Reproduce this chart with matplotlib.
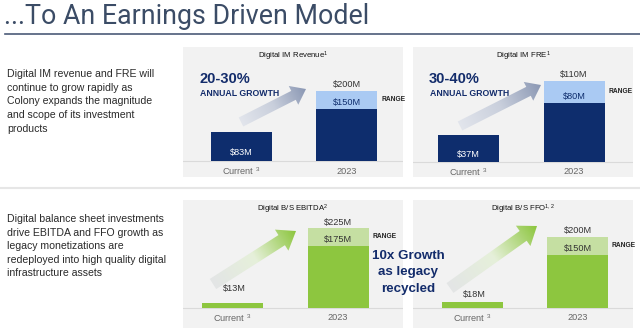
import numpy as np
import matplotlib.pyplot as plt
from matplotlib.patches import FancyArrow
from matplotlib.colors import LinearSegmentedColormap

plt.rcParams['font.family'] = ['Liberation Sans', 'DejaVu Sans']
plt.rcParams['mathtext.fontset'] = 'custom'
plt.rcParams['mathtext.rm'] = 'Liberation Sans'
plt.rcParams['mathtext.default'] = 'regular'

# data
categories = ['Current $^3$', '2023']
chart_titles = ['Digital IM Revenue$^1$', 'Digital IM FRE$^1$',
                'Digital B/S EBITDA$^2$', 'Digital B/S FFO$^{1,2}$']
current_values = [83, 37, 13, 18]
low_2023 = [150, 80, 175, 150]
high_2023 = [200, 110, 225, 200]
growth_labels = ['20-30%', '30-40%']
top_text = ['Digital IM revenue and FRE will', 'continue to grow rapidly as',
            'Colony expands the magnitude', 'and scope of its investment', 'products']
bottom_text = ['Digital balance sheet investments', 'drive EBITDA and FFO growth as',
               'legacy monetizations are', 'redeployed into high quality digital',
               'infrastructure assets']

W, H = 640, 333
NAVY = '#0E2D6D'
LIGHT_BLUE = '#AACAF3'
GREEN = '#8DC63F'
LIGHT_GREEN = '#C5DFA2'
PANEL = '#F2F2F2'
TXT_BLUE = '#132C6B'

# panel layout in pixels: x0, x1, top, bottom, baseline, bar centres, px per $M
panels = [
    (183, 403, 47, 177, 161, (241.5, 346.5), 0.35),
    (413, 633, 47, 177, 162, (468.5, 574.0), 0.74),
    (183, 403, 200, 328, 308, (232.5, 338.0), 0.355),
    (413, 633, 200, 328, 308, (472.5, 577.5), 0.355),
]
cur_offsets = [9, 8, 15, 7]   # label offset above zero / bar top
cur_inside = [True, True, False, False]

fig = plt.figure(figsize=(6.4, 3.33), dpi=100)

for i, (x0, x1, top, bot, base, (c0, c1), scale) in enumerate(panels):
    ax = fig.add_axes([x0 / W, 1 - bot / H, (x1 - x0) / W, (bot - top) / H])
    ax.set_facecolor(PANEL)
    for s in ax.spines.values():
        s.set_visible(False)
    ax.set_xticks([])
    ax.set_yticks([])
    sep = c1 - c0
    width = 61 / sep
    ax.set_xlim(-(c0 - x0) / sep, 1 + (x1 - c1) / sep)
    ax.set_ylim(-(bot - base) / scale, (base - top) / scale)
    dark, light = (NAVY, LIGHT_BLUE) if i < 2 else (GREEN, LIGHT_GREEN)

    ax.axhline(0, color='#DADADA', lw=0.8, zorder=1)
    ax.bar([0], [current_values[i]], width, color=dark, zorder=2)
    ax.bar([1], [low_2023[i]], width, color=dark, zorder=2)
    ax.bar([1], [high_2023[i] - low_2023[i]], width, bottom=low_2023[i], color=light, zorder=2)

    # value labels
    if cur_inside[i]:
        ax.annotate(f'${current_values[i]}M', (0, 0), xytext=(0, cur_offsets[i]),
                    textcoords='offset pixels', ha='center', va='center',
                    color='white', fontsize=6.6)
    else:
        ax.annotate(f'${current_values[i]}M', (0, current_values[i]), xytext=(2, cur_offsets[i]),
                    textcoords='offset pixels', ha='center', va='center',
                    color='#333333', fontsize=6.6)
    ax.annotate(f'${low_2023[i]}M', (1, low_2023[i]), xytext=(0, 6),
                textcoords='offset pixels', ha='center', va='center',
                color=NAVY if i < 2 else '#333333', fontsize=6.6)
    ax.annotate(f'${high_2023[i]}M', (1, high_2023[i]), xytext=(0, 6),
                textcoords='offset pixels', ha='center', va='center',
                color='#333333', fontsize=6.6)
    ax.annotate('RANGE', (1 + width / 2, (low_2023[i] + high_2023[i]) / 2), xytext=(4, 0),
                textcoords='offset pixels', ha='left', va='center',
                color='#222222', fontsize=4.8, fontweight='bold')
    for j, cat in enumerate(categories):
        ax.annotate(cat, (j, 0), xytext=(0, -10), textcoords='offset pixels',
                    ha='center', va='center', color='#666666', fontsize=6.6)
    ax.text(0.5, 1 - 9 / (bot - top), chart_titles[i], transform=ax.transAxes,
            ha='center', va='center', fontsize=5.6, color='#111111')

# overlay in pixel coordinates for slide text and arrows
ov = fig.add_axes([0, 0, 1, 1], zorder=5)
ov.set_xlim(0, W)
ov.set_ylim(H, 0)
ov.axis('off')
ov.patch.set_alpha(0)

ov.text(4, 17, '...To An Earnings Driven Model', fontsize=19.3, color='#3B4C66',
        va='center', ha='left', family=['Roboto', 'DejaVu Sans'])
ov.plot([5, 640], [33.5, 33.5], color='#4B5B78', lw=1.2)
ov.plot([0, 640], [188, 188], color='#E6E6E6', lw=1.5, zorder=0)

for k, line in enumerate(top_text):
    ov.text(7, 74 + k * 13.7, line, fontsize=7.6, color='#2A2A2A', va='center')
for k, line in enumerate(bottom_text):
    ov.text(7, 219 + k * 13.6, line, fontsize=7.6, color='#2A2A2A', va='center')

for gx, glabel in zip([200, 430], growth_labels):
    ov.text(gx - 1, 79, glabel, fontsize=10.5, fontweight='bold', color=TXT_BLUE, va='center')
    ov.text(gx, 93, 'ANNUAL GROWTH', fontsize=6.3, fontweight='bold', color=TXT_BLUE, va='center')

for k, line in enumerate(['10x Growth', 'as legacy', 'recycled']):
    ov.text(408, 256 + k * 16.5, line, fontsize=9.6, fontweight='bold',
            color=TXT_BLUE, ha='center', va='center')

# gradient arrows: tail centre, tip, shaft width, head width, head length, colours
blue_fade = ['#E2E5EC', '#C9CFDC', '#8B98B4']
green_fade = ['#E3E5E6', '#E6F0DA', '#8DC63F']
arrows = [
    ((241, 122), (306, 89), 10, 21, 14, blue_fade),
    ((460, 126), (541, 85), 10, 21, 14, blue_fade),
    ((213, 284), (296, 231), 12, 25, 17, green_fade),
    ((450, 288), (537, 226), 12, 25, 17, green_fade),
]
for (tx, ty), (hx, hy), sw, hw, hl, fade in arrows:
    dx, dy = hx - tx, hy - ty
    arr = FancyArrow(tx, ty, dx, dy, width=sw, head_width=hw, head_length=hl,
                     length_includes_head=True, lw=0, color='none')
    ov.add_patch(arr)
    L = np.hypot(dx, dy)
    ux, uy = dx / L, dy / L
    xs = np.linspace(min(tx, hx) - 20, max(tx, hx) + 20, 120)
    ys = np.linspace(min(ty, hy) - 20, max(ty, hy) + 20, 120)
    X, Y = np.meshgrid(xs, ys)
    T = np.clip(((X - tx) * ux + (Y - ty) * uy) / L, 0, 1)
    cmap = LinearSegmentedColormap.from_list('g', fade)
    im = ov.imshow(T, extent=(xs[0], xs[-1], ys[0], ys[-1]), origin='lower',
                   cmap=cmap, vmin=0, vmax=1, aspect='auto', zorder=3)
    im.set_clip_path(arr)

ov.set_xlim(0, W)
ov.set_ylim(H, 0)

fig.savefig('out.png', dpi=100)
